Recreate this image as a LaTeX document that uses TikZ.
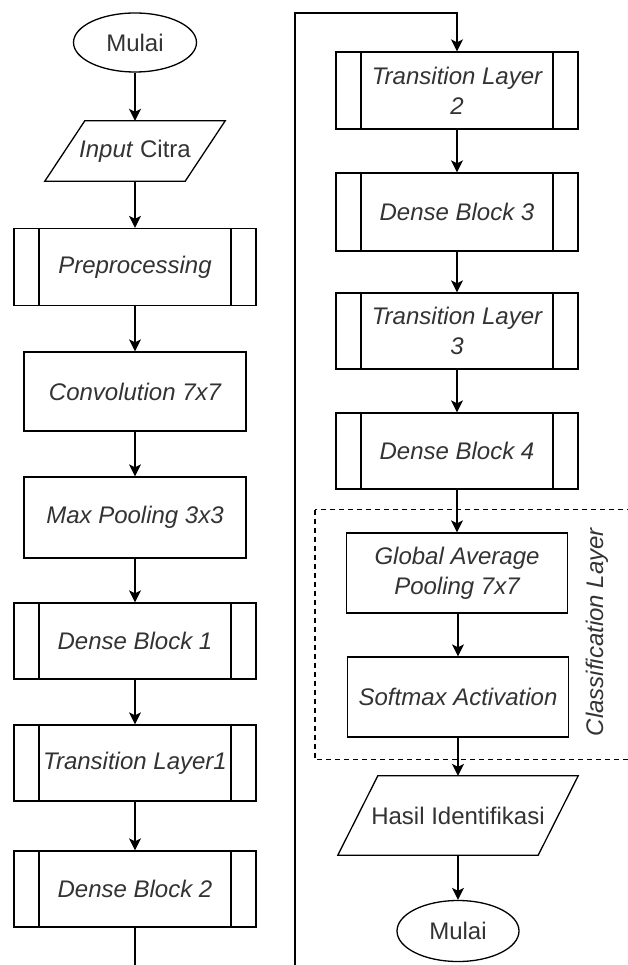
\documentclass[tikz,border=0pt]{standalone}
\usepackage{fontspec}
\setmainfont{Liberation Sans}
\usetikzlibrary{shapes.geometric,arrows.meta,calc}
\begin{document}
\begin{tikzpicture}[x=1pt,y=-1pt,
  every node/.style={font=\fontsize{24}{30}\selectfont, text=black!80, align=center, inner sep=0pt},
  line/.style={line width=1.3pt, draw=black},
  arr/.style={line, -{Stealth[length=12pt,width=12pt,inset=3pt]}},
  term/.style={ellipse, line, minimum width=123pt, minimum height=59pt},
  procbox/.style={rectangle, line, minimum width=222pt, minimum height=80pt, font=\fontsize{24}{30}\selectfont\itshape},
  subproc/.style={rectangle, line, minimum width=242pt, minimum height=77pt, font=\fontsize{24}{30}\selectfont\itshape,
    path picture={\draw[line width=1.3pt]
      ([xshift=25pt]path picture bounding box.north west) -- ([xshift=25pt]path picture bounding box.south west)
      ([xshift=-25pt]path picture bounding box.north east) -- ([xshift=-25pt]path picture bounding box.south east);}},
  parabox/.style={rectangle, minimum width=#1, minimum height=60pt},
]
\useasboundingbox[fill=white] (0,0) rectangle (627,965);

% left column
\node[term] (start) at (135,42.5) {Mulai};
\node[parabox=180pt] (in) at (135,151) {\textit{Input} Citra};
\draw[line] ([xshift=40pt]in.north west) -- (in.north east) -- ([xshift=-40pt]in.south east) -- (in.south west) -- cycle;
\node[subproc] (pre) at (135,267) {Preprocessing};
\node[procbox, minimum height=79pt] (conv) at (135,391.5) {Convolution 7x7};
\node[procbox, minimum height=81pt] (maxp) at (135,517.5) {Max Pooling 3x3};
\node[subproc, minimum height=76pt] (db1) at (135,641) {Dense Block 1};
\node[subproc, minimum height=76pt] (tl1) at (135,763) {Transition Layer1};
\node[subproc, minimum height=76pt] (db2) at (135,889) {Dense Block 2};

% right column
\node[subproc] (tl2) at (457,90.5) {Transition Layer\\2};
\node[subproc, minimum height=78pt] (db3) at (457,212) {Dense Block 3};
\node[subproc, minimum height=76pt] (tl3) at (457,331) {Transition Layer\\3};
\node[subproc, minimum height=76pt] (db4) at (457,451) {Dense Block 4};
\node[procbox, minimum width=221pt] (gap) at (457,573) {Global Average\\Pooling 7x7};
\node[procbox, minimum width=221pt] (soft) at (458,697) {Softmax Activation};
\node[parabox=240pt, minimum height=79pt] (out) at (458,815.5) {Hasil Identifikasi};
\draw[line] ([xshift=40pt]out.north west) -- (out.north east) -- ([xshift=-40pt]out.south east) -- (out.south west) -- cycle;
\node[term, minimum width=122pt, minimum height=61pt] (fin) at (458,931) {Mulai};

% classification group
\draw[line, dash pattern=on 5pt off 4pt] (315,509.5) rectangle (660,759.5);
\node[rotate=90, font=\fontsize{24}{30}\selectfont\itshape] (lbl) at (597,632) {Classification Layer};

% connectors
\draw[arr] (start) -- (in);
\draw[arr] (in) -- (pre);
\draw[arr] (pre) -- (conv);
\draw[arr] (conv) -- (maxp);
\draw[arr] (maxp) -- (db1);
\draw[arr] (db1) -- (tl1);
\draw[arr] (tl1) -- (db2);
\coordinate (b1) at (135,1010);
\coordinate (b2) at (295,1010);
\coordinate (t1) at (295,13);
\coordinate (t2) at (457,13);
\draw[arr] (db2.south) -- (b1) -- (b2) -- (t1) -- (t2) -- (tl2.north);
\draw[arr] (tl2) -- (db3);
\draw[arr] (db3) -- (tl3);
\draw[arr] (tl3) -- (db4);
\draw[arr] (db4) -- (gap);
\draw[arr] (gap) -- (gap.south -| soft.north) -- (soft.north) ;
\draw[arr] (soft) -- (out);
\draw[arr] (out) -- (fin);
\end{tikzpicture}
\end{document}
